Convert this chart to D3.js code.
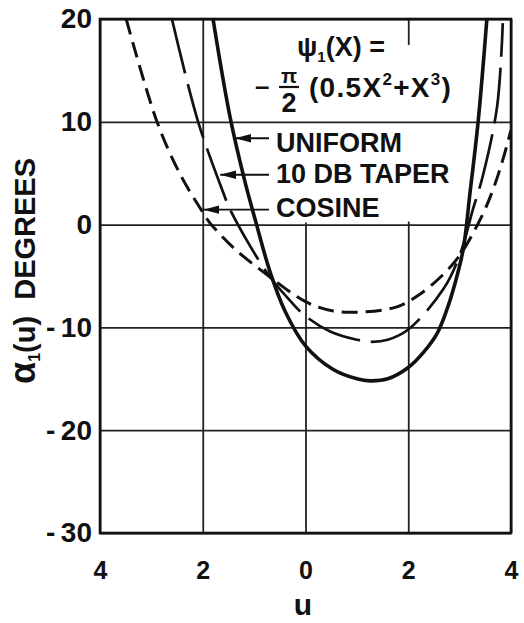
<!DOCTYPE html>
<html>
<head>
<meta charset="utf-8">
<script src="https://cdn.jsdelivr.net/npm/d3@7"></script>
<style>
  body { margin: 0; background: #fff; }
  svg { display: block; }
  text { font-family: "Liberation Sans", Arial, sans-serif; font-weight: bold; fill: #111; }
</style>
</head>
<body>
<div class="content"></div>
<script>
// tick values (x labels are shown without sign)
const xTicks = [-4, -2, 0, 2, 4];
const yTicks = [-30, -20, -10, 0, 10, 20];

// curves: u and alpha_1(u) in degrees
const uniformU = [-1.80, -1.47, -1.18, -0.98, -0.69, -0.40, 0.00, 0.54, 1.00, 1.26, 1.60, 2.00, 2.30, 2.56, 2.75, 2.90, 3.07, 3.20, 3.36, 3.53];
const uniformA = [20.0, 10.5, 4.2, 0.5, -4.6, -8.4, -11.8, -14.1, -15.0, -15.2, -15.0, -13.9, -12.4, -10.6, -8.3, -5.9, -2.4, 3.0, 10.0, 20.0];

const taperU = [-2.60, -2.09, -1.60, -1.49, -1.10, -0.69, -0.30, 0.00, 0.48, 1.00, 1.30, 1.60, 2.00, 2.68, 3.00, 3.26, 3.45, 3.73, 3.84];
const taperA = [20.0, 10.0, 3.1, 1.7, -1.9, -5.1, -7.4, -8.9, -10.4, -11.2, -11.4, -11.2, -10.2, -6.3, -3.0, 1.5, 4.7, 11.5, 19.6];

const cosineU = [-3.49, -2.89, -2.44, -2.00, -1.85, -1.37, -0.98, -0.69, 0.00, 0.54, 1.12, 1.78, 2.19, 2.65, 3.00, 3.43, 3.65, 3.84, 4.00];
const cosineA = [20.0, 10.0, 4.9, 1.2, 0.1, -2.4, -4.0, -5.1, -7.5, -8.4, -8.5, -8.0, -6.9, -5.0, -3.0, 0.8, 3.4, 6.3, 9.2];

// legend labels and where their arrows point (data units)
const legendNames = ['UNIFORM', '10 DB TAPER', 'COSINE'];
const arrowTipU = [-1.37, -1.66, -1.99];
const arrowTipA = [8.4, 4.85, 1.45];

const width = 524, height = 623;

const svg = d3.select('div.content')
  .append('svg')
  .attr('width', width)
  .attr('height', height);

const x = d3.scaleLinear().domain([-4, 4]).range([100, 511]);
const y = d3.scaleLinear().domain([-30, 20]).range([533, 19]);

const defs = svg.append('defs');
defs.append('clipPath').attr('id', 'plot')
  .append('rect')
  .attr('x', x(-4)).attr('y', y(20))
  .attr('width', x(4) - x(-4)).attr('height', y(-30) - y(20));

defs.append('marker')
  .attr('id', 'head')
  .attr('markerUnits', 'userSpaceOnUse')
  .attr('viewBox', '0 0 16 10')
  .attr('refX', 16).attr('refY', 5)
  .attr('markerWidth', 16).attr('markerHeight', 10)
  .attr('orient', 'auto')
  .append('path')
  .attr('d', 'M0,0.8 L16,5 L0,9.2 Z')
  .attr('fill', '#111');

// vertical grid
const vgrid = svg.append('g')
  .attr('transform', `translate(0, ${y(-30)})`)
  .call(d3.axisBottom(x).tickValues(xTicks).tickSize(-(y(-30) - y(20))).tickFormat(''));
vgrid.select('.domain').remove();
vgrid.selectAll('line').attr('stroke', '#222').attr('stroke-width', 1.8);

// the formula and legend block hide part of the vertical grid
svg.append('rect').attr('x', x(-0.6)).attr('y', y(20) + 1)
  .attr('width', x(0.6) - x(-0.6)).attr('height', y(0.3) - y(20))
  .attr('fill', '#fff');
svg.append('rect').attr('x', x(1.6)).attr('y', 45)
  .attr('width', x(2.4) - x(1.6)).attr('height', y(0.3) - 45)
  .attr('fill', '#fff');

// horizontal grid
const hgrid = svg.append('g')
  .attr('transform', `translate(${x(-4)}, 0)`)
  .call(d3.axisLeft(y).tickValues(yTicks).tickSize(-(x(4) - x(-4))).tickFormat(''));
hgrid.select('.domain').remove();
hgrid.selectAll('line').attr('stroke', '#222').attr('stroke-width', 1.8);

// frame
svg.append('rect')
  .attr('x', x(-4)).attr('y', y(20))
  .attr('width', x(4) - x(-4)).attr('height', y(-30) - y(20))
  .attr('fill', 'none').attr('stroke', '#111').attr('stroke-width', 2.6);

// tick labels
const yAxis = svg.append('g')
  .attr('transform', `translate(${x(-4)}, 0)`)
  .call(d3.axisLeft(y).tickValues(yTicks).tickSize(0).tickPadding(8)
    .tickFormat((d) => d < 0 ? '-\u2009' + Math.abs(d) : String(d)));
yAxis.select('.domain').remove();
yAxis.selectAll('text').style('font-size', '28px').attr('font-family', null);

const xAxis = svg.append('g')
  .attr('transform', `translate(0, ${y(-30)})`)
  .call(d3.axisBottom(x).tickValues(xTicks).tickSize(0).tickPadding(28)
    .tickFormat((d) => String(Math.abs(d))));
xAxis.select('.domain').remove();
xAxis.selectAll('text').style('font-size', '25px').attr('font-family', null);

// axis titles
svg.append('text')
  .attr('x', 303).attr('y', 615)
  .attr('text-anchor', 'middle')
  .style('font-size', '30px')
  .text('u');

const ylab = svg.append('text')
  .attr('transform', 'translate(35, 271) rotate(-90)')
  .attr('text-anchor', 'middle')
  .style('font-size', '29px');
ylab.append('tspan').style('font-size', '36px').text('α');
ylab.append('tspan').style('font-size', '16px').attr('dy', 5).text('1');
ylab.append('tspan').attr('dy', -5).text('(u)\u00a0\u00a0DEGREES');

// curves
const series = [
  { u: uniformU, a: uniformA, w: 3.6, dash: null },
  { u: taperU, a: taperA, w: 2.7, dash: '56,11' },
  { u: cosineU, a: cosineA, w: 3.0, dash: '16,8' }
];

const line = d3.line()
  .x((d) => x(d[0]))
  .y((d) => y(d[1]))
  .curve(d3.curveCatmullRom.alpha(0.5));

svg.append('g').attr('clip-path', 'url(#plot)')
  .selectAll('path.curve')
  .data(series)
  .enter()
  .append('path')
  .attr('class', 'curve')
  .attr('d', (s) => line(d3.zip(s.u, s.a)))
  .attr('fill', 'none')
  .attr('stroke', '#111')
  .attr('stroke-width', (s) => s.w)
  .attr('stroke-dasharray', (s) => s.dash)
  .attr('stroke-linecap', 'butt');

// legend with arrows
const legendBase = [152, 183, 217];
svg.selectAll('line.arrow')
  .data(legendNames)
  .enter()
  .append('line')
  .attr('class', 'arrow')
  .attr('x1', 269)
  .attr('y1', (d, i) => y(arrowTipA[i]))
  .attr('x2', (d, i) => x(arrowTipU[i]))
  .attr('y2', (d, i) => y(arrowTipA[i]))
  .attr('stroke', '#111')
  .attr('stroke-width', 1.8)
  .attr('marker-end', 'url(#head)');

svg.selectAll('text.legend')
  .data(legendNames)
  .enter()
  .append('text')
  .attr('class', 'legend')
  .attr('x', 276)
  .attr('y', (d, i) => legendBase[i])
  .style('font-size', '27px')
  .text((d) => d);

// formula
const f1 = svg.append('text').attr('x', 297).attr('y', 56).style('font-size', '27px');
f1.append('tspan').text('ψ');
f1.append('tspan').style('font-size', '15px').attr('dy', 6).text('1');
f1.append('tspan').attr('dy', -6).text('(X) =');

svg.append('text').attr('x', 255).attr('y', 95).style('font-size', '26px').text('–');
svg.append('text').attr('x', 289).attr('y', 83).attr('text-anchor', 'middle').style('font-size', '21px').text('π');
svg.append('line').attr('x1', 279).attr('x2', 299).attr('y1', 87).attr('y2', 87)
  .attr('stroke', '#111').attr('stroke-width', 2.2);
svg.append('text').attr('x', 289).attr('y', 112).attr('text-anchor', 'middle').style('font-size', '27px').text('2');

const f2 = svg.append('text').attr('x', 309).attr('y', 97)
  .style('font-size', '28px').style('letter-spacing', '1.3px');
f2.append('tspan').text('(0.5X');
f2.append('tspan').style('font-size', '17px').attr('dy', -12).text('2');
f2.append('tspan').attr('dy', 12).text('+X');
f2.append('tspan').style('font-size', '17px').attr('dy', -12).text('3');
f2.append('tspan').attr('dy', 12).text(')');
</script>
</body>
</html>
